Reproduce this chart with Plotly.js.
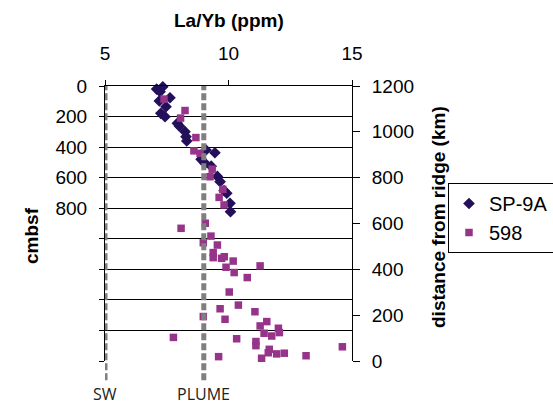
<!DOCTYPE html>
<html>
<head>
<meta charset="utf-8">
<script src="https://cdn.plot.ly/plotly-3.0.1.min.js"></script>
<style>html,body{margin:0;padding:0;background:#fff;}#chart{width:553px;height:406px;}</style>
</head>
<body>
<div id="chart"></div>
<script>
// SP-9A: La/Yb vs depth (cmbsf, left axis)
const sp9aLaYb = [7.34, 7.09, 7.23, 7.63, 7.20, 7.47, 7.26, 7.43, 7.93, 8.01, 8.24, 8.28, 8.31, 9.09, 9.45, 8.89, 9.05, 9.30, 9.55, 9.66, 9.82, 9.93, 10.06, 10.08];
const sp9aDepth = [5, 20, 37, 77, 98, 135, 179, 201, 244, 262, 299, 332, 360, 419, 437, 480, 506, 525, 592, 626, 685, 702, 768, 823];

// 598: La/Yb vs distance from ridge (km, right axis)
const s598LaYb = [7.39, 8.24, 8.06, 8.68, 8.60, 8.85, 9.34, 9.25, 9.77, 9.62, 9.82, 9.06, 8.08, 9.29, 8.98, 9.55, 9.38, 9.38, 9.72, 9.83, 10.19, 11.28, 9.90, 10.23, 10.76, 10.03, 10.40, 9.66, 11.07, 8.98, 9.86, 11.55, 11.28, 12.02, 12.06, 11.44, 11.75, 7.77, 10.33, 11.11, 11.11, 14.61, 11.65, 11.61, 11.95, 12.26, 13.14, 11.34, 9.60];
const s598Dist = [1143, 1093, 1060, 975, 917, 906, 837, 804, 749, 714, 681, 601, 579, 545, 516, 506, 473, 451, 448, 455, 436, 415, 409, 386, 364, 301, 244, 228, 215, 194, 182, 172, 153, 143, 124, 121, 109, 103, 97, 85, 67, 62, 51, 36, 31, 34, 23, 12, 19];

// reference lines
const refNames = ['SW', 'PLUME'];
const refValues = [5, 9];

// axis ticks
const xTicks = [5, 10, 15];
const depthTicks = [0, 200, 400, 600, 800, 1000, 1200, 1400, 1600, 1800];
const depthLabels = ['0', '200', '400', '600', '800', '', '', '', '', ''];
const distTicks = [0, 200, 400, 600, 800, 1000, 1200];

const FONT = 'Liberation Sans, Arial, sans-serif';
const plotL = 105, plotR = 352, plotT = 86, plotB = 361;
const pw = plotR - plotL, ph = plotB - plotT;

const traces = [
  {
    x: sp9aLaYb, y: sp9aDepth, name: 'SP-9A', type: 'scatter', mode: 'markers',
    yaxis: 'y', cliponaxis: false,
    marker: {symbol: 'diamond', size: 9, color: '#24105a'}
  },
  {
    x: s598LaYb, y: s598Dist, name: '598', type: 'scatter', mode: 'markers',
    yaxis: 'y2', cliponaxis: false,
    marker: {symbol: 'square', size: 7.5, color: '#96348a'}
  }
];

const shapes = refValues.map(v => ({
  type: 'line', xref: 'x', yref: 'paper', x0: v, x1: v, y0: -0.07, y1: 1.0,
  line: {color: '#7f7f7f', width: 5, dash: '7px,3px'}, layer: 'above'
}));

const annotations = refNames.map((n, i) => ({
  text: n, x: refValues[i], xref: 'x', y: -0.12, yref: 'paper',
  xanchor: 'center', yanchor: 'middle', showarrow: false, borderpad: 0,
  font: {family: 'Open Sans, sans-serif', size: 16, color: '#222'}
}));

annotations.push({
  text: '<b>La/Yb (ppm)</b>', x: 0.5, xref: 'paper', y: (plotB - 20) / ph, yref: 'paper',
  xanchor: 'center', yanchor: 'middle', showarrow: false,
  font: {family: FONT, size: 19, color: '#000'}
});
annotations.push({
  text: '<b>cmbsf</b>', x: (31 - plotL) / pw, xref: 'paper', y: (plotB - 236) / ph, yref: 'paper',
  xanchor: 'center', yanchor: 'middle',
  showarrow: false, textangle: -90, font: {family: FONT, size: 19, color: '#000'}
});
annotations.push({
  text: '<b>distance from ridge (km)</b>', x: (438 - plotL) / pw, xref: 'paper', y: (plotB - 217) / ph, yref: 'paper',
  xanchor: 'center', yanchor: 'middle',
  showarrow: false, textangle: -90, font: {family: FONT, size: 19, color: '#000'}
});

const layout = {
  width: 553, height: 406,
  margin: {l: plotL, r: 553 - plotR, t: plotT, b: 406 - plotB, pad: 0, autoexpand: false},
  paper_bgcolor: '#fff', plot_bgcolor: '#fff',
  font: {family: FONT, size: 19, color: '#000'},
  showlegend: true,
  legend: {
    x: (448 - plotL) / pw, y: (plotB - 183) / ph, xanchor: 'left', yanchor: 'top',
    bordercolor: '#000', borderwidth: 1, bgcolor: '#fff',
    font: {family: FONT, size: 20, color: '#000'}
  },
  xaxis: {
    side: 'top', range: [5, 15], tickvals: xTicks, ticktext: xTicks.map(String),
    showgrid: false, zeroline: false, showline: true, linecolor: '#000', linewidth: 1,
    ticks: 'outside', ticklen: 5, tickcolor: '#000', ticklabelstandoff: 12,
    tickfont: {family: FONT, size: 19, color: '#000'}, automargin: false
  },
  yaxis: {
    range: [1800, 0], tickvals: depthTicks, ticktext: depthLabels,
    showgrid: true, gridcolor: '#000', gridwidth: 1, zeroline: false,
    showline: true, linecolor: '#000', linewidth: 1,
    ticks: 'outside', ticklen: 5, tickcolor: '#000', ticklabelstandoff: 8,
    tickfont: {family: FONT, size: 19, color: '#000'}, automargin: false
  },
  yaxis2: {
    overlaying: 'y', side: 'right', anchor: 'x', range: [0, 1200], tickvals: distTicks,
    showgrid: false, zeroline: false, showline: true, linecolor: '#000', linewidth: 1,
    ticks: 'outside', ticklen: 7, tickcolor: '#000', ticklabelstandoff: 8,
    tickfont: {family: FONT, size: 19, color: '#000'}, automargin: false
  },
  shapes: shapes,
  annotations: annotations
};

Plotly.newPlot('chart', traces, layout, {displayModeBar: false, staticPlot: true});
</script>
</body>
</html>
